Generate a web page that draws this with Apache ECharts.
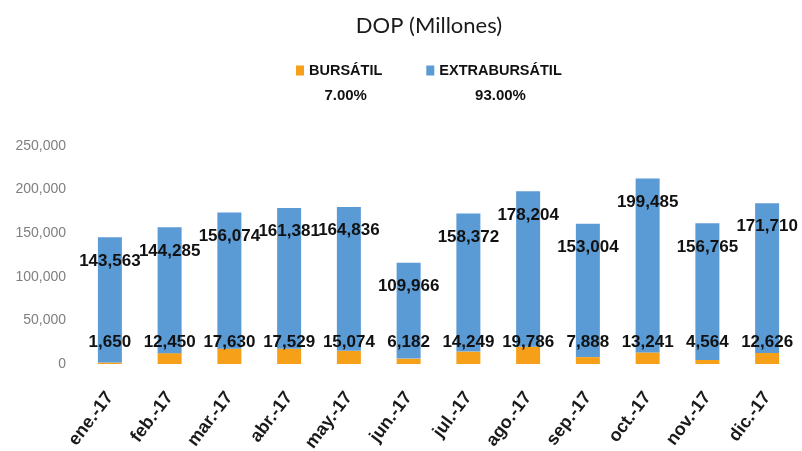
<!DOCTYPE html>
<html>
<head>
<meta charset="utf-8">
<script src="https://cdn.jsdelivr.net/npm/echarts@6/dist/echarts.min.js"></script>
<style>html,body{margin:0;padding:0;background:#fff}#c{width:802px;height:451px}</style>
</head>
<body>
<div id="c"></div>
<script>
const categories = ['ene.-17','feb.-17','mar.-17','abr.-17','may.-17','jun.-17','jul.-17','ago.-17','sep.-17','oct.-17','nov.-17','dic.-17'];
const bursatil = [1650,12450,17630,17529,15074,6182,14249,19786,7888,13241,4564,12626];
const extrabursatil = [143563,144285,156074,161381,164836,109966,158372,178204,153004,199485,156765,171710];
const seriesNames = ['BURSÁTIL','EXTRABURSÁTIL'];
const titleText = 'DOP (Millones)';

const sum = a => a.reduce((s,v)=>s+v,0);
const total = sum(bursatil) + sum(extrabursatil);
const pct = {
  'BURSÁTIL': (sum(bursatil)/total*100).toFixed(2) + '%',
  'EXTRABURSÁTIL': (sum(extrabursatil)/total*100).toFixed(2) + '%'
};
const fmt = v => v.toLocaleString('en-US');
const sans = '"Liberation Sans", Arial, sans-serif';

const chart = echarts.init(document.getElementById('c'));
chart.setOption({
  animation: false,
  backgroundColor: '#ffffff',
  title: {
    text: titleText, left: 424, top: 10, textAlign: 'center',
    textStyle: { fontFamily: 'Lato, sans-serif', fontWeight: 'normal', fontSize: 22, color: '#1a1a1a' }
  },
  legend: {
    data: seriesNames,
    left: 296, top: 38, padding: 0, itemGap: 44,
    icon: 'rect', itemWidth: 8, itemHeight: 10,
    formatter: n => '{e| }\n{n|' + n + '}\n{p|' + pct[n] + '}',
    textStyle: {
      rich: {
        e: { fontSize: 15, lineHeight: 25 },
        n: { fontFamily: sans, fontWeight: 'bold', fontSize: 14.5, lineHeight: 25, color: '#111', align: 'center' },
        p: { fontFamily: sans, fontWeight: 'bold', fontSize: 15, lineHeight: 25, color: '#111', align: 'center' }
      }
    }
  },
  grid: { left: 80, right: 5, top: 146, bottom: 87, containLabel: false, outerBoundsMode: 'none' },
  xAxis: {
    type: 'category', data: categories,
    axisLine: { show: false }, axisTick: { show: false },
    axisLabel: { rotate: 53, margin: 30, fontFamily: sans, fontWeight: 'bold', fontSize: 18, color: '#1a1a1a', interval: 0 }
  },
  yAxis: {
    type: 'value', min: 0, max: 250000, interval: 50000,
    splitLine: { show: false }, axisLine: { show: false }, axisTick: { show: false },
    axisLabel: { margin: 14, fontFamily: sans, fontSize: 14, color: '#7f7f7f', formatter: v => fmt(v) }
  },
  series: [
    {
      name: seriesNames[0], type: 'bar', stack: 't', data: bursatil, barWidth: 24,
      itemStyle: { color: '#F6A01A' },
      label: { show: true, position: 'insideBottom', distance: 13, fontFamily: sans, fontWeight: 'bold', fontSize: 17, color: '#111', formatter: p => fmt(p.value) }
    },
    {
      name: seriesNames[1], type: 'bar', stack: 't', data: extrabursatil, barWidth: 24,
      itemStyle: { color: '#5B9BD5' },
      label: { show: true, position: 'insideTop', distance: 15, fontFamily: sans, fontWeight: 'bold', fontSize: 17, color: '#111', formatter: p => fmt(p.value) }
    }
  ]
});
</script>
</body>
</html>
